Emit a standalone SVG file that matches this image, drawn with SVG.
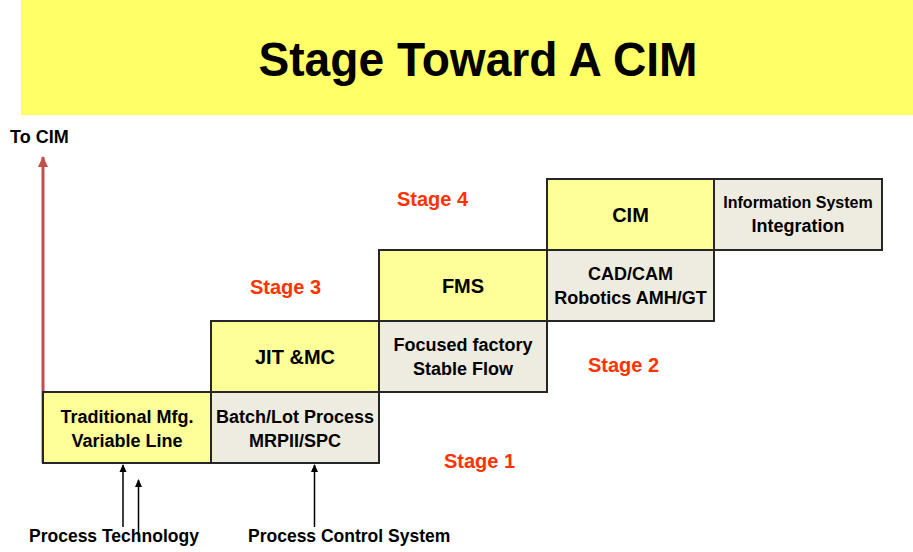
<svg xmlns="http://www.w3.org/2000/svg" width="913" height="552" viewBox="0 0 913 552">
<style>
text{font-family:"Liberation Sans",Arial,sans-serif;font-weight:bold;fill:#000}
.t{font-size:18px;text-anchor:middle}
.b{font-size:20px;text-anchor:middle}
.s{font-size:16px;text-anchor:middle}
.stg{font-size:20px;fill:#FF3300}
.y{fill:#FFFF99;stroke:#262626;stroke-width:2}
.g{fill:#EEECE1;stroke:#262626;stroke-width:2}
.blk{stroke:#000;stroke-width:1.5;fill:none}
</style>
<defs>
<marker id="ah" markerWidth="8" markerHeight="8" refX="7" refY="4" orient="auto" markerUnits="userSpaceOnUse">
<path d="M0,0.5 L8,4 L0,7.5 Z" fill="#000"/>
</marker>
<marker id="rh" markerWidth="12" markerHeight="12" refX="10" refY="6" orient="auto" markerUnits="userSpaceOnUse">
<path d="M0,1 L11,6 L0,11 Z" fill="#C0504D"/>
</marker>
</defs>
<rect x="21" y="0" width="892" height="115" fill="#FFFF66"/>
<text x="478" y="76" font-size="48" text-anchor="middle" textLength="439" lengthAdjust="spacingAndGlyphs">Stage Toward A CIM</text>
<text x="10" y="143" font-size="18">To CIM</text>
<g id="connectors">
<line x1="43" y1="463" x2="43" y2="157" stroke="#C0504D" stroke-width="3" marker-end="url(#rh)"/>
<line class="blk" x1="123" y1="527" x2="123" y2="465" marker-end="url(#ah)"/>
<line class="blk" x1="138.5" y1="541" x2="138.5" y2="480" marker-end="url(#ah)"/>
<line class="blk" x1="314.5" y1="527" x2="314.5" y2="465" marker-end="url(#ah)"/>
</g>
<g id="traditional">
<rect class="y" x="43" y="392" width="168" height="71"/>
<text class="t" x="127" y="423">Traditional Mfg.</text>
<text class="t" x="127" y="447">Variable Line</text>
</g>
<g id="batch">
<rect class="g" x="211" y="392" width="168" height="71"/>
<text class="t" x="295" y="423">Batch/Lot Process</text>
<text class="t" x="295" y="447">MRPII/SPC</text>
</g>
<g id="jit">
<rect class="y" x="211" y="321" width="168" height="71"/>
<text class="b" x="295" y="364">JIT &amp;MC</text>
</g>
<g id="focused">
<rect class="g" x="379" y="321" width="168" height="71"/>
<text class="t" x="463" y="351">Focused factory</text>
<text class="t" x="463" y="375">Stable Flow</text>
</g>
<g id="fms">
<rect class="y" x="379" y="250" width="168" height="71"/>
<text class="b" x="463" y="293">FMS</text>
</g>
<g id="cadcam">
<rect class="g" x="547" y="250" width="167" height="71"/>
<text class="t" x="630.5" y="280">CAD/CAM</text>
<text class="t" x="630.5" y="304">Robotics AMH/GT</text>
</g>
<g id="cim">
<rect class="y" x="547" y="179" width="167" height="71"/>
<text class="b" x="630.5" y="222">CIM</text>
</g>
<g id="info">
<rect class="g" x="714" y="179" width="168" height="71"/>
<text class="s" x="798" y="208">Information System</text>
<text class="t" x="798" y="232">Integration</text>
</g>
<g id="stages">
<text class="stg" x="397" y="206">Stage 4</text>
<text class="stg" x="250" y="294">Stage 3</text>
<text class="stg" x="588" y="372">Stage 2</text>
<text class="stg" x="444" y="468">Stage 1</text>
</g>
<text x="29" y="542" font-size="17.5">Process Technology</text>
<text x="248" y="542" font-size="17.5">Process Control System</text>
</svg>
